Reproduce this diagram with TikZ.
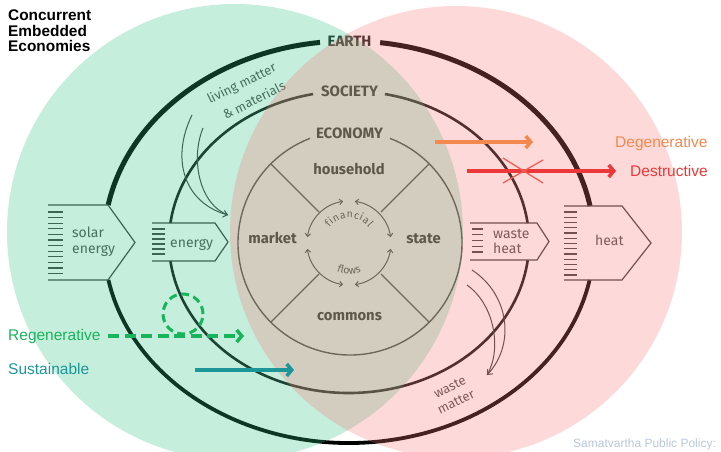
\documentclass[tikz,border=0pt]{standalone}
\usepackage{fontspec}
\setmainfont{Liberation Sans}
\newfontfamily\dfont{Fira Sans}
\usetikzlibrary{arrows.meta,decorations.text}
\definecolor{ovgreen}{RGB}{51,194,130}
\definecolor{ovred}{RGB}{248,122,122}
\definecolor{econgray}{RGB}{60,60,60}
\definecolor{boxgray}{RGB}{66,66,66}
\definecolor{txtgray}{RGB}{80,80,80}
\definecolor{labeldark}{RGB}{30,30,30}
\definecolor{degen}{RGB}{243,137,78}
\definecolor{destr}{RGB}{236,56,56}
\definecolor{xred}{RGB}{240,95,85}
\definecolor{regen}{RGB}{24,180,92}
\definecolor{sustain}{RGB}{28,150,152}
\definecolor{credit}{RGB}{185,200,216}
\begin{document}
\begin{tikzpicture}[x=1pt,y=1pt,
  earthhi/.style={line width=5pt, draw=black},
  earthlo/.style={line width=3.8pt, draw=black},
  socline/.style={line width=2.6pt, draw=black!92},
  econline/.style={line width=1.4pt, draw=econgray},
  finarrow/.style={line width=1pt, draw=econgray, {Straight Barb[length=3pt,width=5.5pt]}-{Straight Barb[length=3pt,width=5.5pt]}},
  boxline/.style={line width=1.2pt, draw=boxgray},
  flowline/.style={line width=1pt, draw=boxgray},
  bigtxt/.style={font=\dfont\bfseries\fontsize{15}{15}\selectfont, text=labeldark, inner sep=0pt, anchor=base},
  sectxt/.style={font=\dfont\bfseries\fontsize{14.8}{14.8}\selectfont, text=labeldark, inner sep=0pt, anchor=base},
  boxtxt/.style={font=\dfont\fontsize{14}{14}\selectfont, text=txtgray, inner sep=0pt, anchor=base west},
  flowtxt/.style={font=\dfont\fontsize{13}{13}\selectfont, text=txtgray, inner sep=0pt, anchor=center},
  annot/.style={font=\fontsize{15.5}{15.5}\selectfont, inner sep=0pt, anchor=base west},
  annarrow/.style={line width=3.5pt, -{Straight Barb[length=5pt,width=12pt]}},
  titletxt/.style={font=\bfseries\fontsize{15.4}{15.4}\selectfont, inner sep=0pt, anchor=base west}
]
\useasboundingbox (0,0) rectangle (721,-452);
\fill[white] (0,0) rectangle (721,-452);

\coordinate (E) at (349,-242);
\coordinate (C) at (350,-243);
\coordinate (F) at (349,-243);

% ---- Earth ring
\draw[earthhi] ([shift={(82.7:245pt and 201pt)}]E) arc[start angle=82.7,end angle=10.3,x radius=245pt,y radius=201pt];
\draw[earthhi] ([shift={(96.8:245pt and 201pt)}]E) arc[start angle=96.8,end angle=169.4,x radius=245pt,y radius=201pt];
\draw[earthlo] ([shift={(190.9:245pt and 201pt)}]E) arc[start angle=190.9,end angle=349.1,x radius=245pt,y radius=201pt];

% ---- Society ring
\draw[socline] ([shift={(78.5:180pt and 151pt)}]E) arc[start angle=78.5,end angle=7.2,x radius=180pt,y radius=151pt];
\draw[socline] ([shift={(101.5:180pt and 151pt)}]E) arc[start angle=101.5,end angle=172.8,x radius=180pt,y radius=151pt];
\draw[socline] ([shift={(187.2:180pt and 151pt)}]E) arc[start angle=187.2,end angle=353.1,x radius=180pt,y radius=151pt];

% ---- Economy ring and dividers
\draw[econline] ([shift={(69.1:112pt)}]C) arc[start angle=69.1,end angle=-249.1,radius=112pt];
\foreach \a in {45,135,225,315}
  \draw[econline] ([shift={(\a:44pt)}]C) -- ([shift={(\a:112pt)}]C);

% ---- financial flows
\draw[finarrow] ([shift={(98:42pt)}]F) arc[start angle=98,end angle=172,radius=42pt];
\draw[finarrow] ([shift={(82:42pt)}]F) arc[start angle=82,end angle=8,radius=42pt];
\draw[finarrow] ([shift={(188:42pt)}]F) arc[start angle=188,end angle=262,radius=42pt];
\draw[finarrow] ([shift={(278:42pt)}]F) arc[start angle=278,end angle=352,radius=42pt];
\path[decorate, decoration={text along path, text color=econgray,
   text={|\dfont\fontsize{10.5}{10.5}\selectfont|financial}, text align=fit to path}]
   ([shift={(142:25pt)}]F) arc[start angle=142,end angle=38,radius=25pt];
\path[decorate, decoration={text along path, text color=econgray,
   text={|\dfont\fontsize{10.5}{10.5}\selectfont|flows}, text align=center}]
   ([shift={(235:31pt)}]F) arc[start angle=235,end angle=305,radius=31pt];

% ---- labels
\node[bigtxt] (earth) at (349.5,-47) {EARTH};
\node[bigtxt] (society) at (349.5,-97) {SOCIETY};
\node[bigtxt] (economy) at (349.5,-139) {ECONOMY};
\node[sectxt] (household) at (349,-175) {household};
\node[sectxt] (market) at (272.5,-243) {market};
\node[sectxt] (state) at (423.5,-243) {state};
\node[sectxt] (commons) at (349.5,-320) {commons};

% ---- solar energy box
\draw[boxline] (48,-205) -- (108,-205) -- (135,-242.5) -- (108,-280) -- (48,-280);
\foreach \i in {0,...,11} \draw[boxline] (48,{-212-\i*5.6}) -- (63,{-212-\i*5.6});
\node[boxtxt] (solar1) at (72,-237) {solar};
\node[boxtxt] (solar2) at (72,-253) {energy};

% ---- energy box
\draw[boxline] (152,-223) -- (215,-223) -- (228,-242) -- (215,-261) -- (152,-261);
\foreach \i in {0,...,5} \draw[boxline] (152,{-229-\i*5}) -- (165,{-229-\i*5});
\node[boxtxt] (energy) at (170,-247) {energy};

% ---- waste heat box
\draw[boxline] (470,-223) -- (537,-223) -- (549,-241.5) -- (537,-260) -- (470,-260);
\foreach \i in {0,...,4} \draw[boxline] (472,{-229-\i*5.75}) -- (483,{-229-\i*5.75});
\node[boxtxt] (waste1) at (493,-238) {waste};
\node[boxtxt] (waste2) at (493,-253) {heat};

% ---- heat box
\draw[boxline] (564,-206) -- (622,-206) -- (651,-243) -- (622,-280) -- (564,-280);
\foreach \i in {0,...,12} \draw[boxline] (564,{-212-\i*5.25}) -- (577,{-212-\i*5.25});
\node[boxtxt] (heat) at (595,-245) {heat};

% ---- living matter flow
\draw[flowline, -{Straight Barb[length=4pt,width=7pt]}] (192,-115) .. controls (170,-160) and (185,-203) .. (228,-215);
\draw[flowline] (203,-128) .. controls (190,-160) and (200,-205) .. (228,-215);
\node[flowtxt, rotate=26.3] (lm1) at (242,-84) {living matter};
\node[flowtxt, rotate=26.9] (lm2) at (254,-100) {\& materials};

% ---- waste matter flow
\draw[flowline, -{Straight Barb[length=4pt,width=7pt]}] (472,-270) .. controls (510,-295) and (515,-345) .. (487,-375);
\draw[flowline] (467,-285) .. controls (495,-305) and (502,-350) .. (487,-375);
\node[flowtxt, rotate=26] (wm1) at (450,-387) {waste};
\node[flowtxt, rotate=26] (wm2) at (456,-402) {matter};

% ---- overlays
\fill[ovgreen, fill opacity=0.28] (235,-232) circle[radius=228pt];
\fill[ovred, fill opacity=0.28] (456,-232) circle[radius=226pt];

% ---- annotations
\coordinate (dg1) at (435,-142); \coordinate (dg2) at (533,-142);
\draw[annarrow, draw=degen] (dg1) -- (dg2);
\node[annot, text=degen] (degl) at (615,-147) {Degenerative};

\coordinate (ds1) at (467,-171); \coordinate (ds2) at (616,-171);
\draw[annarrow, draw=destr] (ds1) -- (ds2);
\coordinate (x1) at (503,-158); \coordinate (x2) at (543,-183);
\coordinate (x3) at (503,-183); \coordinate (x4) at (543,-160);
\draw[xred, line width=1.3pt] (x1) -- (x2);
\draw[xred, line width=1.3pt] (x3) -- (x4);
\node[annot, text=destr] (desl) at (630,-176) {Destructive};

\coordinate (rg1) at (108,-336); \coordinate (rg2) at (244,-336);
\draw[annarrow, draw=regen, dash pattern=on 11pt off 5.5pt] (rg1) -- (rg2);
\draw[regen, line width=3pt, dash pattern=on 8pt off 4.6pt] (183,-314) circle[radius=20pt];
\node[annot, text=regen] (regl) at (8,-340) {Regenerative};

\coordinate (su1) at (195,-370); \coordinate (su2) at (294,-370);
\draw[annarrow, draw=sustain] (su1) -- (su2);
\node[annot, text=sustain] (susl) at (8,-374) {Sustainable};

% ---- title and credit
\node[titletxt] (t1) at (8,-21) {Concurrent};
\node[titletxt] (t2) at (8,-36.3) {Embedded};
\node[titletxt] (t3) at (8,-51.6) {Economies};
\node[font=\fontsize{12}{12}\selectfont, text=credit, inner sep=0pt, anchor=base west] (cred) at (573,-447) {Samatvartha Public Policy:};
\end{tikzpicture}
\end{document}
